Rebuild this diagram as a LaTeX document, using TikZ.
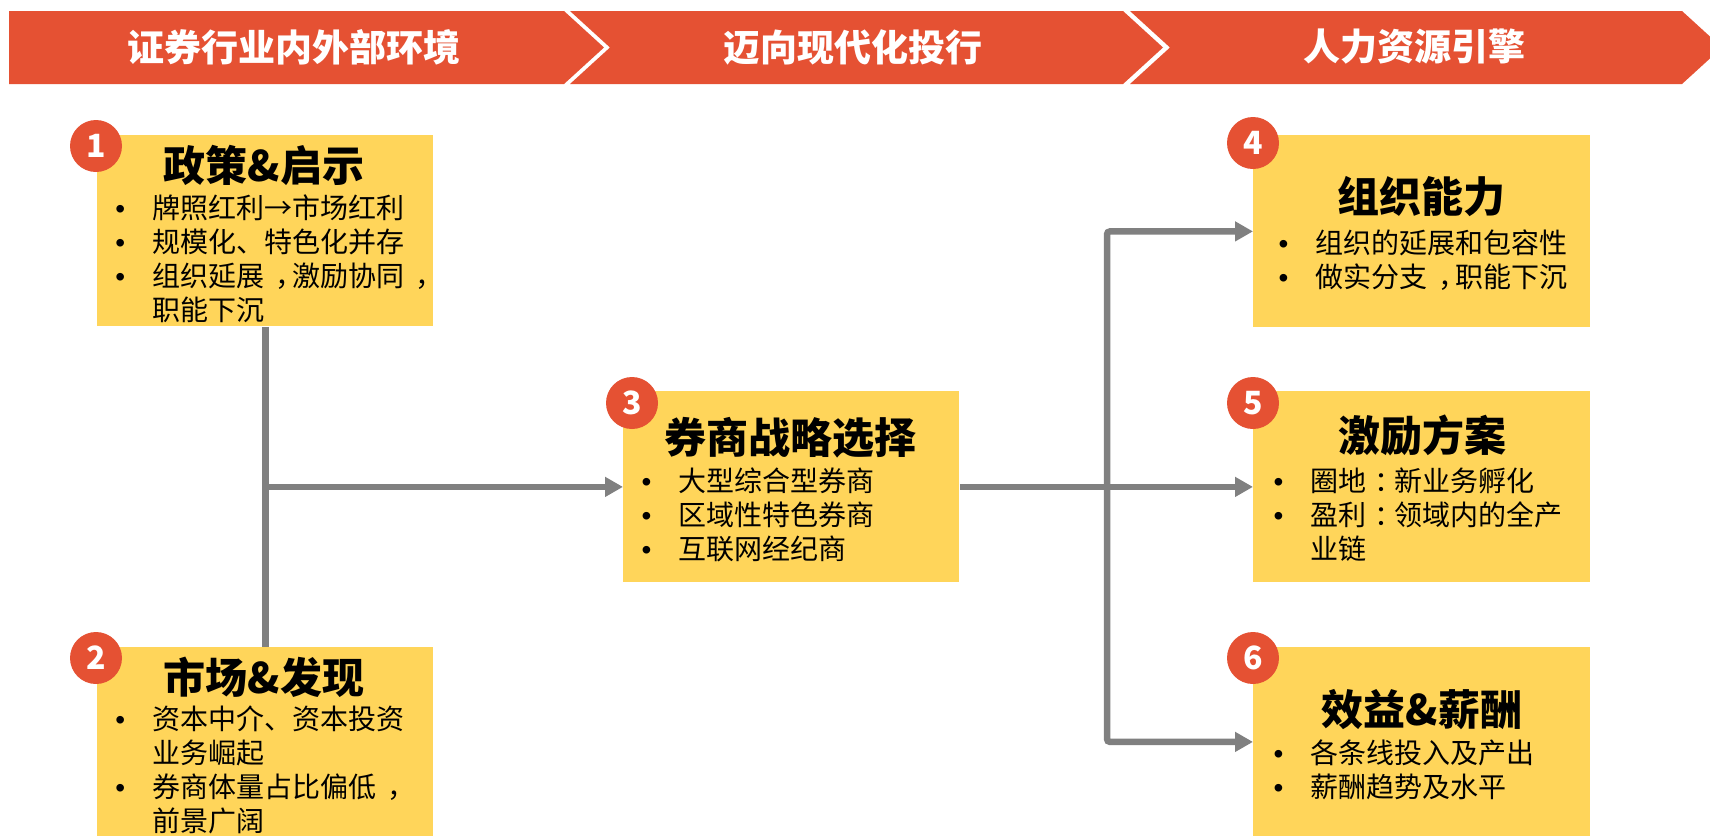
\documentclass[tikz,border=0pt]{standalone}
\usepackage{fontspec}
\usetikzlibrary{arrows.meta}
\setmainfont{Noto Sans CJK SC}
\newfontfamily\bulfont{Liberation Sans}
\definecolor{bannerc}{HTML}{E55133}
\definecolor{boxc}{HTML}{FFD55A}
\definecolor{connc}{HTML}{808080}
\newcommand\bl{\makebox[0pt][c]{\bulfont •}\hspace*{16pt}}
\newcommand\ind{\hspace*{16pt}}
\newcommand\cmm{\hspace{0.4em}，\hspace{-0.4em}}
\newcommand\cln{\hspace{0.3em}：\hspace{-0.3em}}
\tikzset{
  chev/.style={fill=bannerc},
  hdr/.style={text=white, font=\bfseries\fontsize{18.5}{20}\selectfont, inner sep=0},
  ybox/.style={fill=boxc, inner sep=0, anchor=north west},
  ttl/.style={font=\bfseries\fontsize{21}{24}\selectfont, inner sep=0},
  body/.style={font=\fontsize{14}{17}\selectfont, inner sep=0, anchor=base west},
  num/.style={circle, fill=bannerc, minimum size=26pt, inner sep=0, text=white, font=\bfseries\fontsize{16}{18}\selectfont},
  link/.style={draw=connc, line width=3.25pt},
  arr/.style={link, -{Triangle[length=9pt,width=9.5pt]}},
  darr/.style={link, {Triangle[length=9pt,width=9.5pt]}-{Triangle[length=9pt,width=9.5pt]}, rounded corners=1.5pt},
}
\begin{document}
\begin{tikzpicture}[x=0.5pt, y=-0.5pt]
\useasboundingbox (0,0) rectangle (1710,836);
\fill[white] (0,0) rectangle (1710,836);
\clip (0,0) rectangle (1710,836);
% banner
\fill[chev] (9,11) -- (564,11) -- (604,47.5) -- (564,84) -- (9,84) -- cycle;
\fill[chev] (570,11) -- (1123,11) -- (1163,47.5) -- (1123,84) -- (570,84) -- (610,47.5) -- cycle;
\fill[chev] (1130,11) -- (1682,11) -- (1722,47.5) -- (1682,84) -- (1130,84) -- (1170,47.5) -- cycle;
\node[hdr] (h1) at (294,47) {证券行业内外部环境};
\node[hdr] (h2) at (853,47) {迈向现代化投行};
\node[hdr] (h3) at (1414,47) {人力资源引擎};
% boxes
\node[ybox, minimum width=168pt, minimum height=95.5pt] (b1) at (97,135) {};
\node[ybox, minimum width=168pt, minimum height=94.5pt] (b2) at (97,647) {};
\node[ybox, minimum width=168pt, minimum height=95.5pt] (b3) at (623,391) {};
\node[ybox, minimum width=168.5pt, minimum height=96pt] (b4) at (1253,135) {};
\node[ybox, minimum width=168.5pt, minimum height=95.5pt] (b5) at (1253,391) {};
\node[ybox, minimum width=168.5pt, minimum height=94.5pt] (b6) at (1253,647) {};
% connectors
\coordinate (j1) at (b1.south |- b3.west);
\coordinate (j2) at (1107,0);
\coordinate (jx) at (j2 |- b5.west);
\draw[link] (b1.south) -- (b2.north);
\draw[arr] (j1) -- (b3.west);
\draw[arr] (b3.east) -- (b5.west);
\draw[darr] (b4.west) -| (jx) |- (b6.west);
% titles
\node[ttl] (t1) at (264,165) {政策\&启示};
\node[ttl] (t2) at (264,677) {市场\&发现};
\node[ttl] (t3) at (790,438) {券商战略选择};
\node[ttl] (t4) at (1421,197) {组织能力};
\node[ttl] (t5) at (1422,435) {激励方案};
\node[ttl] (t6) at (1422,710) {效益\&薪酬};
% bodies
\node[body] (c1) at (120,218) {\begin{tabular}[t]{@{}l@{}}\bl 牌照红利→市场红利\\ \bl 规模化、特色化并存\\ \bl 组织延展\cmm 激励协同\cmm\\ \ind 职能下沉\end{tabular}};
\node[body] (c2) at (120,729) {\begin{tabular}[t]{@{}l@{}}\bl 资本中介、资本投资\\ \ind 业务崛起\\ \bl 券商体量占比偏低\cmm\\ \ind 前景广阔\end{tabular}};
\node[body] (c3) at (646,491) {\begin{tabular}[t]{@{}l@{}}\bl 大型综合型券商\\ \bl 区域性特色券商\\ \bl 互联网经纪商\end{tabular}};
\node[body] (c4) at (1283,253) {\begin{tabular}[t]{@{}l@{}}\bl 组织的延展和包容性\\ \bl 做实分支\cmm 职能下沉\end{tabular}};
\node[body] (c5) at (1278,491) {\begin{tabular}[t]{@{}l@{}}\bl 圈地\cln 新业务孵化\\ \bl 盈利\cln 领域内的全产\\ \ind 业链\end{tabular}};
\node[body] (c6) at (1278,763) {\begin{tabular}[t]{@{}l@{}}\bl 各条线投入及产出\\ \bl 薪酬趋势及水平\end{tabular}};
% numbers
\node[num] (n1) at (96,146) {1};
\node[num] (n2) at (96,658) {2};
\node[num] (n3) at (632,403) {3};
\node[num] (n4) at (1253,143) {4};
\node[num] (n5) at (1253,403) {5};
\node[num] (n6) at (1253,658) {6};
\end{tikzpicture}
\end{document}
